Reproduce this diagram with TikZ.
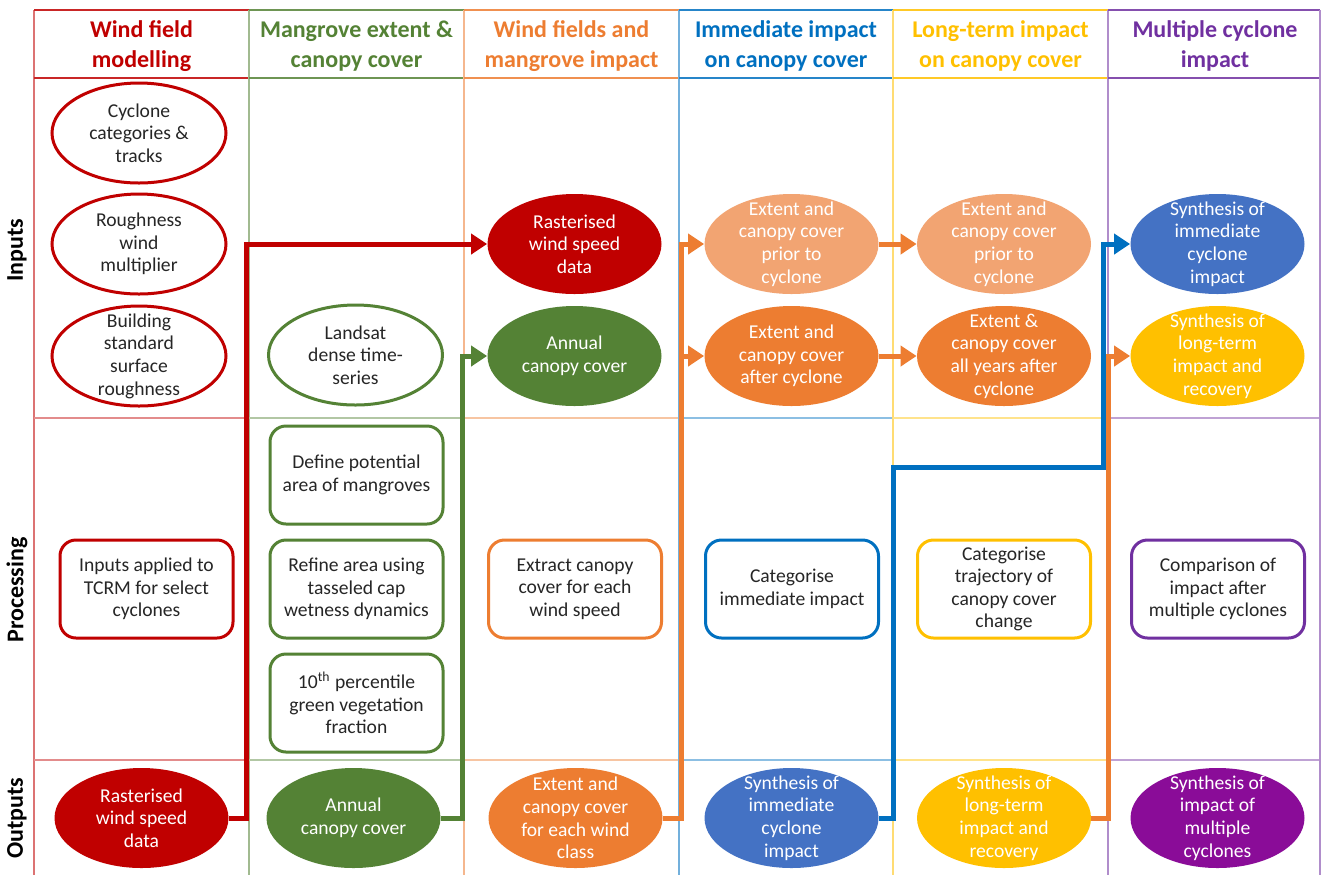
\documentclass[tikz,border=0pt]{standalone}
\usepackage{fontspec}
\setmainfont{Carlito}
\usetikzlibrary{arrows.meta,shapes.geometric}
\definecolor{cred}{HTML}{C00000}
\definecolor{cgreen}{HTML}{548235}
\definecolor{corange}{HTML}{ED7D31}
\definecolor{clorange}{HTML}{F2A472}
\definecolor{cblue}{HTML}{0070C0}
\definecolor{cfblue}{HTML}{4472C4}
\definecolor{cgold}{HTML}{FFC000}
\definecolor{cpurple}{HTML}{7030A0}
\definecolor{cfpurple}{HTML}{8A0C98}
\definecolor{tgray}{HTML}{262626}
\newcommand{\bodyf}{\fontsize{9.8}{11.3}\selectfont}
\newcommand{\headf}{\fontsize{12}{15}\selectfont\bfseries}
\newcommand{\rowf}{\fontsize{12}{14}\selectfont\bfseries}
\begin{document}
\begin{tikzpicture}[x=0.5pt,y=-0.5pt,
  ell/.style={ellipse, minimum width=87pt, minimum height=50pt, inner sep=0pt},
  oell/.style={ell, draw=#1, line width=1.5pt, fill=white},
  fell/.style={ell, fill=#1},
  otxt/.style={align=center, font=\bodyf, text=tgray},
  wtxt/.style={align=center, font=\bodyf, text=white},
  proc/.style={rectangle, rounded corners=8pt, draw=#1, line width=1.5pt, fill=white,
    minimum width=86.5pt, minimum height=49pt, inner sep=0pt, align=center, font=\bodyf, text=tgray},
  flow/.style={line width=2.5pt, draw=#1, -{Triangle[length=8pt,width=10pt]}},
  head/.style={align=center, font=\headf, text=#1},
  rowlab/.style={rotate=90, font=\rowf, text=black},
  gridv/.style={draw=#1!55, line width=0.8pt},
  gridh/.style={draw=#1!45, line width=0.8pt},
  gridhd/.style={draw=#1!85, line width=1pt}
]
\useasboundingbox (0,0) rectangle (1322,875);
\fill[white] (0,0) rectangle (1322,875);

% grid
\foreach \xa/\xb/\c in {34/249/cred,249/464/cgreen,464/679/corange,679/893/cblue,893/1108/cgold,1108/1320/cpurple}{
  \draw[gridv=\c] (\xa,10) -- (\xa,875);
  \draw[gridhd=\c] (\xa,10) -- (\xb,10);
  \draw[gridhd=\c] (\xa,78) -- (\xb,78);
  \draw[gridh=\c] (\xa,418) -- (\xb,418);
  \draw[gridh=\c] (\xa,760) -- (\xb,760);
}
\draw[gridv=cpurple] (1320,10) -- (1320,875);

% headers
\node[head=cred] (h1) at (141.5,46) {Wind field\\modelling};
\node[head=cgreen] (h2) at (356.5,46) {Mangrove extent \&\\canopy cover};
\node[head=corange] (h3) at (571.5,46) {Wind fields and\\mangrove impact};
\node[head=cblue] (h4) at (786,46) {Immediate impact\\on canopy cover};
\node[head=cgold] (h5) at (1000.5,46) {Long-term impact\\on canopy cover};
\node[head=cpurple] (h6) at (1215,46) {Multiple cyclone\\impact};

% row labels
\node[rowlab] (r1) at (17,250) {Inputs};
\node[rowlab] (r2) at (17,590) {Processing};
\node[rowlab] (r3) at (17,818) {Outputs};

% column 1
\node[oell=cred, label={[otxt]center:Cyclone\\categories \&\\tracks}] (c1a) at (139,133) {};
\node[oell=cred, label={[otxt]center:Roughness\\wind\\multiplier}] (c1b) at (139,244) {};
\node[oell=cred, label={[otxt]center:Building\\standard\\surface\\roughness}] (c1c) at (139,356) {};
\node[proc=cred] (p1) at (146.5,589) {Inputs applied to\\TCRM for select\\cyclones};
\node[fell=cred, label={[wtxt]center:Rasterised\\wind speed\\data}] (o1) at (141.5,818) {};

% column 2
\node[oell=cgreen, label={[otxt]center:Landsat\\dense time-\\series}] (c2a) at (355.5,355) {};
\node[proc=cgreen] (p2a) at (356.5,475) {Define potential\\area of mangroves};
\node[proc=cgreen] (p2b) at (356.5,589) {Refine area using\\tasseled cap\\wetness dynamics};
\node[proc=cgreen] (p2c) at (356.5,703) {10\textsuperscript{th} percentile\\green vegetation\\fraction};
\node[fell=cgreen, label={[wtxt]center:Annual\\canopy cover}] (o2) at (353.5,818) {};

% column 3
\node[fell=cred, label={[wtxt]center:Rasterised\\wind speed\\data}] (c3a) at (574.5,244) {};
\node[fell=cgreen, label={[wtxt]center:Annual\\canopy cover}] (c3b) at (574.5,356) {};
\node[proc=corange] (p3) at (575,589) {Extract canopy\\cover for each\\wind speed};
\node[fell=corange, label={[wtxt]center:Extent and\\canopy cover\\for each wind\\class}] (o3) at (575.5,818) {};

% column 4
\node[fell=clorange, label={[wtxt]center:Extent and\\canopy cover\\prior to\\cyclone}] (c4a) at (791.5,244) {};
\node[fell=corange, label={[wtxt]center:Extent and\\canopy cover\\after cyclone}] (c4b) at (791.5,356) {};
\node[proc=cblue] (p4) at (792,589) {Categorise\\immediate impact};
\node[fell=cfblue, label={[wtxt]center:Synthesis of\\immediate\\cyclone\\impact}] (o4) at (791.5,818) {};

% column 5
\node[fell=clorange, label={[wtxt]center:Extent and\\canopy cover\\prior to\\cyclone}] (c5a) at (1004,244) {};
\node[fell=corange, label={[wtxt]center:Extent \&\\canopy cover\\all years after\\cyclone}] (c5b) at (1004,356) {};
\node[proc=cgold] (p5) at (1004,589) {Categorise\\trajectory of\\canopy cover\\change};
\node[fell=cgold, label={[wtxt]center:Synthesis of\\long-term\\impact and\\recovery}] (o5) at (1004,818) {};

% column 6
\node[fell=cfblue, label={[wtxt]center:Synthesis of\\immediate\\cyclone\\impact}] (c6a) at (1217.5,244) {};
\node[fell=cgold, label={[wtxt]center:Synthesis of\\long-term\\impact and\\recovery}] (c6b) at (1217.5,356) {};
\node[proc=cpurple] (p6) at (1218,589) {Comparison of\\impact after\\multiple cyclones};
\node[fell=cfpurple, label={[wtxt]center:Synthesis of\\impact of\\multiple\\cyclones}] (o6) at (1217.5,818) {};

% connectors
\draw[flow=cred] (o1.east) -- (246,818) |- (c3a.west);
\draw[flow=cgreen] (o2.east) -- (462,818) |- (c3b.west);
\draw[flow=corange] (o3.east) -- (681,818) |- (c4b.west);
\draw[flow=corange] (681,360) |- (c4a.west);
\draw[flow=corange] (c4a.east) -- (c5a.west);
\draw[flow=corange] (c4b.east) -- (c5b.west);
\draw[flow=cblue] (o4.east) -- (893,818) -- (893,467) -- (1103,467) |- (c6a.west);
\draw[flow=corange] (o5.east) -- (1108,818) |- (c6b.west);
\end{tikzpicture}
\end{document}
